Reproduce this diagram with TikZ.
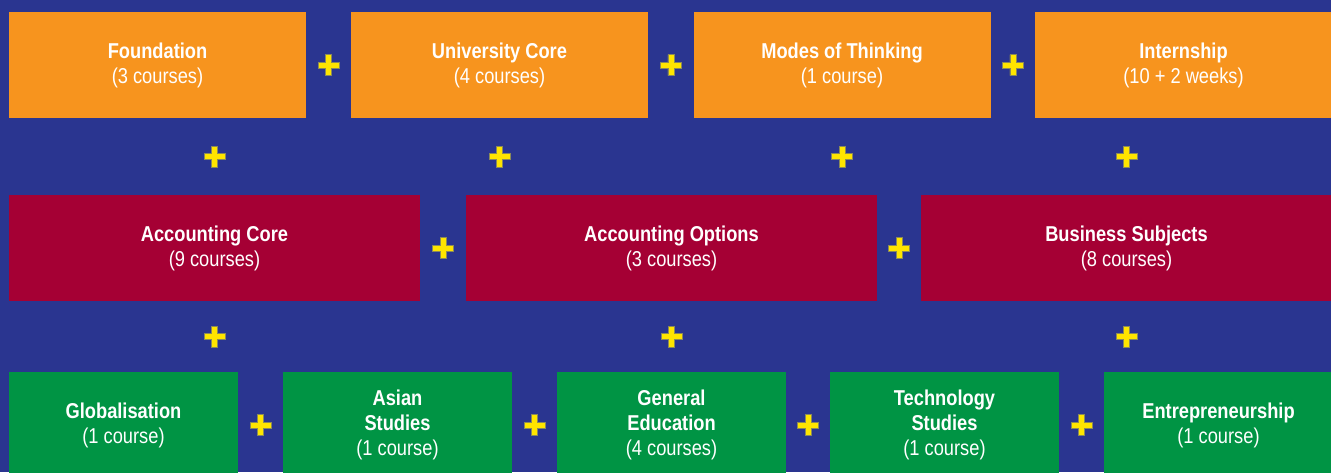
\documentclass[tikz,border=0pt]{standalone}
\usepackage{fontspec}
\setmainfont{Liberation Sans}[FakeStretch=0.85]
\usepackage{tikz}
\usetikzlibrary{positioning,calc}
\definecolor{bgblue}{HTML}{2A3590}
\definecolor{boxorange}{HTML}{F7941E}
\definecolor{boxred}{HTML}{A50034}
\definecolor{boxgreen}{HTML}{009444}
\definecolor{plusyellow}{HTML}{FFE500}
\definecolor{plusedge}{HTML}{8A8A5A}

\begin{document}
\begin{tikzpicture}[x=1pt,y=-1pt,on grid,
   box/.style={minimum height=106pt,inner sep=0pt,align=center,text=white,
               font=\fontsize{21.5}{25}\selectfont},
   twoline/.style={execute at begin node={\rule{0pt}{23pt}}},
   orangebox/.style={box,twoline,fill=boxorange,minimum width=297pt},
   redbox/.style={box,twoline,fill=boxred,minimum width=411pt},
   greenbox/.style={box,fill=boxgreen,minimum width=229pt},
   plussign/.pic={\fill[plusyellow,draw=plusedge,line width=0.5pt]
      (-10.5,-3) -- (-3,-3) -- (-3,-10.5) -- (3,-10.5) -- (3,-3) -- (10.5,-3)
      -- (10.5,3) -- (3,3) -- (3,10.5) -- (-3,10.5) -- (-3,3) -- (-10.5,3) -- cycle;}]
   \clip (0,0) rectangle (1331,472);
   \fill[bgblue] (0,0) rectangle (1331,472);

   % first row
   \node[orangebox] (found) at (157.5,65) {\textbf{Foundation}\\(3 courses)};
   \node[orangebox] (ucore) [right=342pt of found] {\textbf{University Core}\\(4 courses)};
   \node[orangebox] (modes) [right=342.5pt of ucore] {\textbf{Modes of Thinking}\\(1 course)};
   \node[orangebox] (intern) [right=341.5pt of modes] {\textbf{Internship}\\(10 + 2 weeks)};

   % second row
   \node[redbox] (acore) at (214.5,248) {\textbf{Accounting Core}\\(9 courses)};
   \node[redbox] (aopt) [right=457pt of acore] {\textbf{Accounting Options}\\(3 courses)};
   \node[redbox] (bus) [right=455pt of aopt] {\textbf{Business Subjects}\\(8 courses)};

   % third row
   \node[greenbox,twoline] (glob) at (123.5,425) {\textbf{Globalisation}\\(1 course)};
   \node[greenbox] (asian) [right=274pt of glob] {\textbf{Asian}\\\textbf{Studies}\\(1 course)};
   \node[greenbox] (gened) [right=274pt of asian] {\textbf{General}\\\textbf{Education}\\(4 courses)};
   \node[greenbox] (tech) [right=273pt of gened] {\textbf{Technology}\\\textbf{Studies}\\(1 course)};
   \node[greenbox,twoline] (entre) [right=274pt of tech] {\textbf{Entrepreneurship}\\(1 course)};

   % plus signs
   \pic at ($(found)!0.5!(ucore)$) {plussign};
   \pic at ($(ucore)!0.5!(modes)$) {plussign};
   \pic at ($(modes)!0.5!(intern)$) {plussign};
   \pic at ($(found.south -| acore)!0.5!(acore.north)$) {plussign};
   \pic at ($(ucore.south)!0.5!(ucore.south |- aopt.north)$) {plussign};
   \pic at ($(modes.south)!0.5!(modes.south |- aopt.north)$) {plussign};
   \pic at ($(intern.south -| bus)!0.5!(bus.north)$) {plussign};
   \pic at ($(acore)!0.5!(aopt)$) {plussign};
   \pic at ($(aopt)!0.5!(bus)$) {plussign};
   \pic at ($(acore.south)!0.5!(acore.south |- glob.north)$) {plussign};
   \pic at ($(aopt.south)!0.5!(aopt.south |- gened.north)$) {plussign};
   \pic at ($(bus.south)!0.5!(bus.south |- entre.north)$) {plussign};
   \pic at ($(glob)!0.5!(asian)$) {plussign};
   \pic at ($(asian)!0.5!(gened)$) {plussign};
   \pic at ($(gened)!0.5!(tech)$) {plussign};
   \pic at ($(tech)!0.5!(entre)$) {plussign};
\end{tikzpicture}
\end{document}
